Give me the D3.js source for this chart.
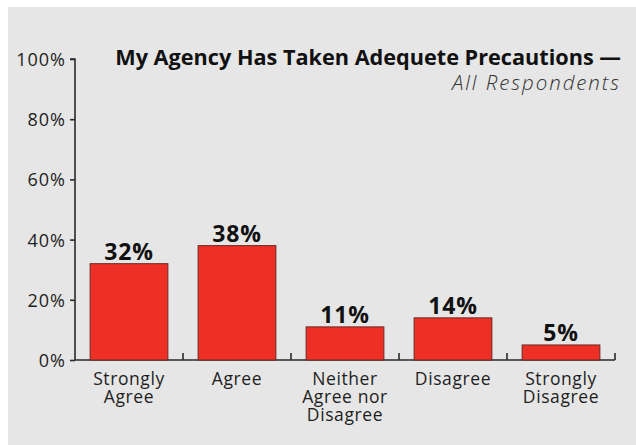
<!DOCTYPE html>
<html><head><meta charset="utf-8">
<script src="https://cdn.jsdelivr.net/npm/d3@7"></script>
<style>body{margin:0;background:#fff}svg{display:block}</style>
</head><body>
<svg id="c" width="636" height="445"></svg>
<script>
const categories = [["Strongly","Agree"],["Agree"],["Neither","Agree nor","Disagree"],["Disagree"],["Strongly","Disagree"]];
const values = [32, 38, 11, 14, 5];
const yTicks = [0, 20, 40, 60, 80, 100];
const title = "My Agency Has Taken Adequete Precautions —";
const subtitle = "All Respondents";

const font = "'Open Sans', Lato, sans-serif";
const svg = d3.select("#c");
svg.append("rect").attr("x",8).attr("y",7).attr("width",628).attr("height",438).attr("fill","#e6e6e6");

const x = d3.scaleBand().domain(d3.range(values.length)).range([75,615]).padding(0);
const y = d3.scaleLinear().domain([0,100]).range([360,59]);

// y axis
const yAxis = d3.axisLeft(y).tickValues(yTicks).tickFormat(d=>d+"%").tickSize(5).tickPadding(4);
const gy = svg.append("g").attr("transform","translate(75,0)").call(yAxis);
gy.select(".domain").attr("stroke","#2a2a2a").attr("stroke-width",1.6).attr("d","M-5,59H0V360");
gy.selectAll(".tick line").attr("stroke","#2a2a2a").attr("stroke-width",1.6);
gy.selectAll(".tick text").attr("font-family",font).attr("font-size",18).attr("letter-spacing",1)
  .attr("fill","#1e1e1e").attr("dy","0.36em");

// x axis
const gx = svg.append("g").attr("transform","translate(0,360)");
gx.append("line").attr("x1",75).attr("x2",615).attr("y1",0).attr("y2",0).attr("stroke","#2a2a2a").attr("stroke-width",1.6);
gx.selectAll(".xt").data(d3.range(1,values.length+1)).join("line")
  .attr("x1",i=>75+x.step()*i).attr("x2",i=>75+x.step()*i).attr("y1",0).attr("y2",-7)
  .attr("stroke","#2a2a2a").attr("stroke-width",1.6);

const bw = x.bandwidth()*0.72;
svg.selectAll(".bar").data(values).join("rect")
  .attr("x",(d,i)=>x(i)+x.bandwidth()/2-bw/2).attr("width",bw)
  .attr("y",d=>y(d)).attr("height",d=>y(0)-y(d))
  .attr("fill","#ee2f25").attr("stroke","#6a2a25").attr("stroke-width",1);

svg.selectAll(".val").data(values).join("text")
  .attr("x",(d,i)=>x(i)+x.bandwidth()/2).attr("y",d=>y(d)-4)
  .attr("text-anchor","middle").attr("font-family",font).attr("font-weight",700)
  .attr("font-size",23).attr("letter-spacing",0.8).attr("fill","#111").text(d=>d+"%");

const labelLines = categories.flatMap((lines,i)=>lines.map((l,j)=>({l,i,j})));
svg.selectAll(".cat").data(labelLines).join("text")
  .attr("x",d=>x(d.i)+x.bandwidth()/2).attr("y",d=>385+d.j*18)
  .attr("text-anchor","middle").attr("font-family",font).attr("font-size",17.5).attr("letter-spacing",0.6)
  .attr("fill","#1e1e1e").text(d=>d.l);

const t = svg.append("text").attr("x",621).attr("y",65).attr("text-anchor","end")
  .attr("font-family",font).attr("font-weight",700).attr("font-size",21).attr("fill","#111").text(title);
const tl = t.node().getComputedTextLength();
t.attr("font-size", Math.min(22, 21*506/tl));
const s = svg.append("text").attr("x",621).attr("y",90).attr("text-anchor","end")
  .attr("font-family",font).attr("font-style","italic").attr("font-weight",300).attr("font-size",20.5).attr("fill","#333").text(subtitle);
const sl = s.node().getComputedTextLength();
s.attr("letter-spacing", Math.max(0, Math.min(2.5, (169 - sl)/subtitle.length)));
</script>
</body></html>
